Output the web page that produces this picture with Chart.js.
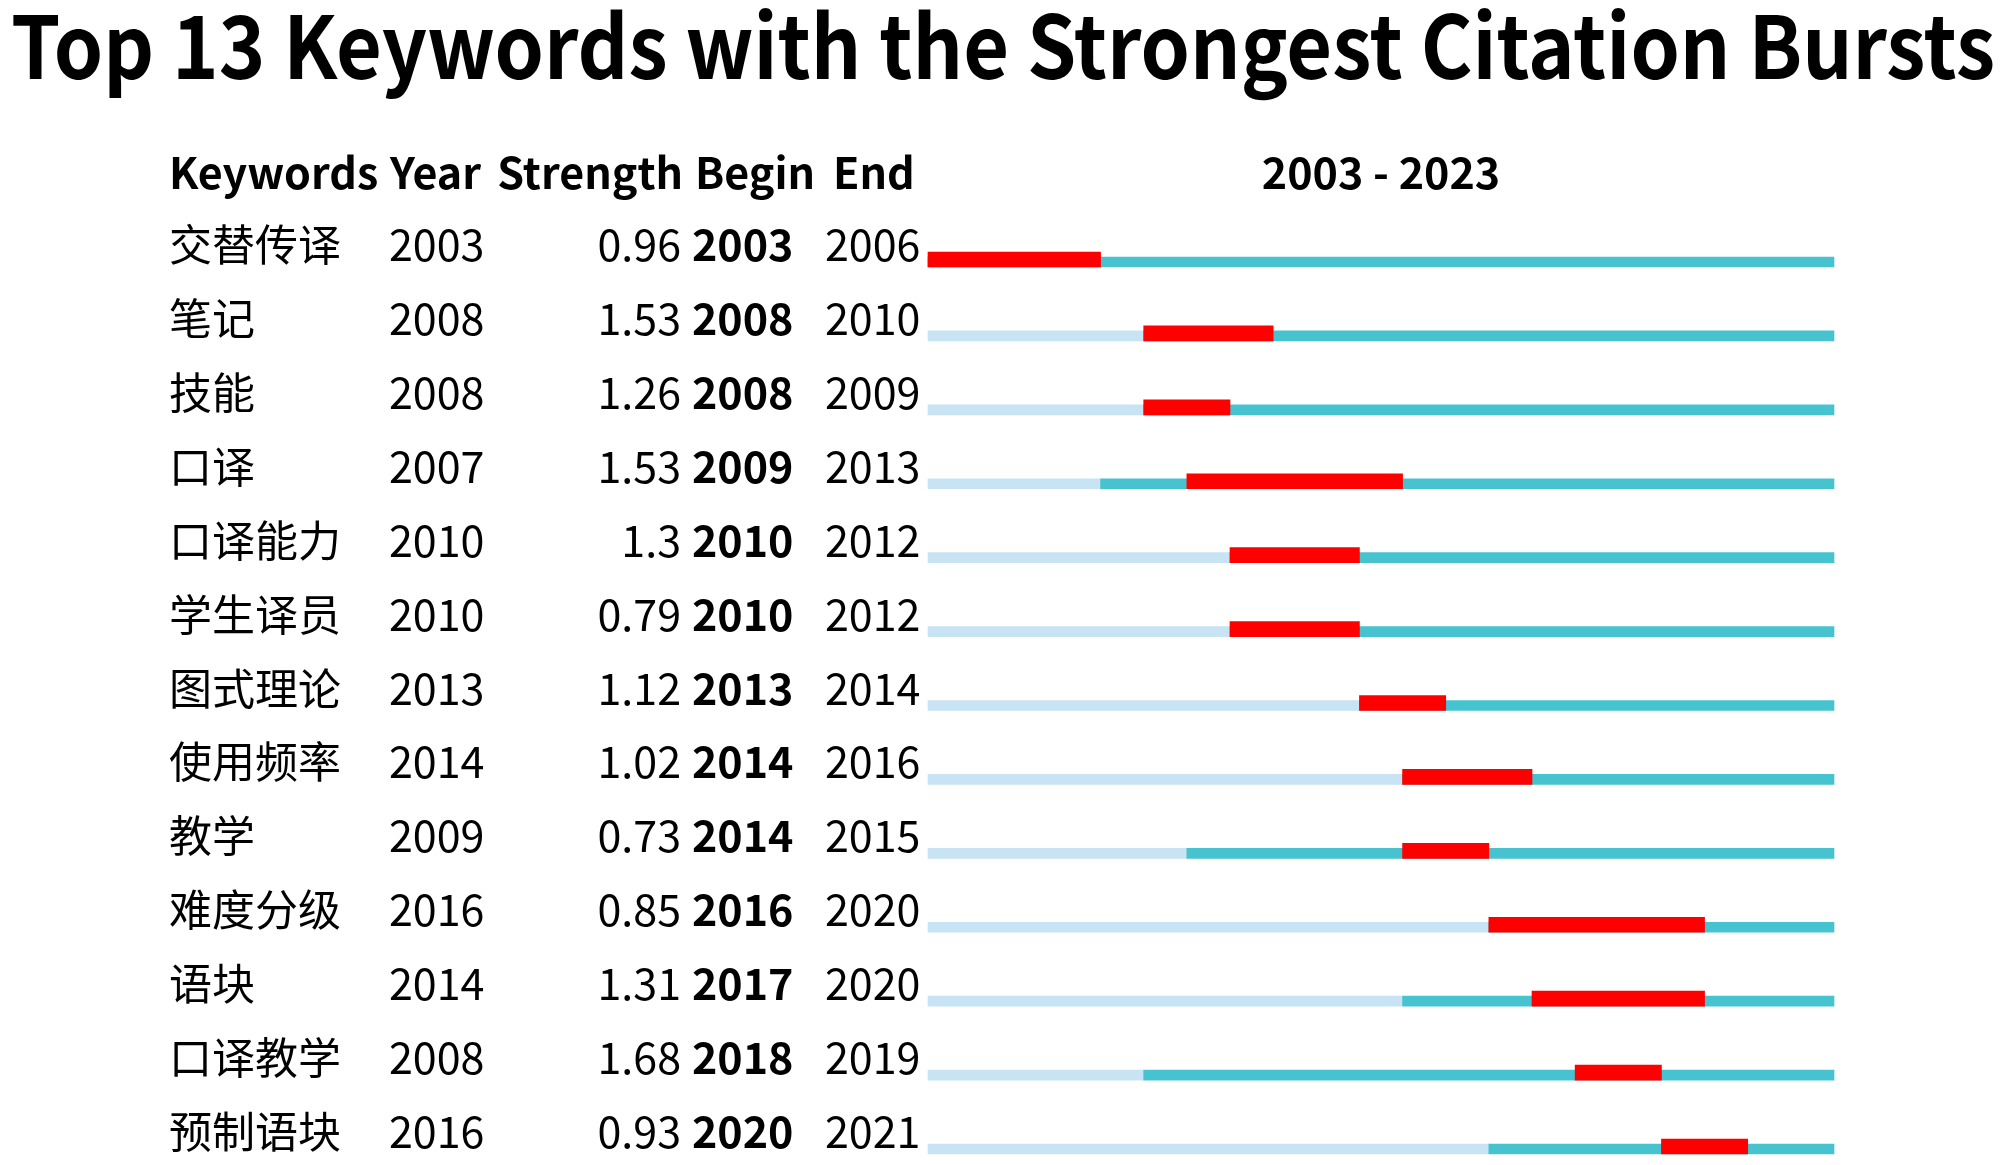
<!DOCTYPE html>
<html>
<head>
<meta charset="utf-8">
<script src="https://cdn.jsdelivr.net/npm/chart.js@4"></script>
<style>
html,body{margin:0;padding:0;background:#fff;}
#wrap{width:2000px;height:1165px;}
</style>
</head>
<body>
<div id="wrap"><canvas id="c" width="2000" height="1165"></canvas></div>
<script>
// ---- data ----
const titleText = 'Top 13 Keywords with the Strongest Citation Bursts';
const headers = ['Keywords', 'Year', 'Strength', 'Begin', 'End'];
const rangeLabel = '2003 - 2023';
const firstYear = 2003;
const lastYear = 2023;
const keywords = ['交替传译','笔记','技能','口译','口译能力','学生译员','图式理论','使用频率','教学','难度分级','语块','口译教学','预制语块'];
const years = [2003,2008,2008,2007,2010,2010,2013,2014,2009,2016,2014,2008,2016];
const strengths = [0.96,1.53,1.26,1.53,1.3,0.79,1.12,1.02,0.73,0.85,1.31,1.68,0.93];
const begins = [2003,2008,2008,2009,2010,2010,2013,2014,2014,2016,2017,2018,2020];
const ends = [2006,2010,2009,2013,2012,2012,2014,2016,2015,2020,2020,2019,2021];

const FONT = '"Noto Sans CJK SC", "Noto Sans", sans-serif';

const tablePlugin = {
  id: 'burstTable',
  beforeDatasetDraw(chart, args) {
    if (args.index === 0) { chart.ctx.save(); chart.ctx.translate(0, -2.5); }
  },
  afterDatasetDraw(chart, args) {
    if (args.index === 0) { chart.ctx.restore(); }
  },
  afterDraw(chart) {
    const ctx = chart.ctx;
    const ys = chart.scales.y, xs = chart.scales.x;
    ctx.save();
    ctx.fillStyle = '#000';
    ctx.textBaseline = 'alphabetic';
    // title
    ctx.font = 'bold 87px ' + FONT;
    ctx.textAlign = 'center';
    ctx.fillText(titleText, 1003, 79, 1984);
    // header
    const hy = 189;
    ctx.font = 'bold 43px ' + FONT;
    ctx.textAlign = 'left';
    ctx.fillText(headers[0], 169, hy);
    ctx.fillText(headers[1], 390, hy);
    ctx.textAlign = 'right';
    ctx.fillText(headers[2], 683, hy);
    ctx.textAlign = 'left';
    ctx.fillText(headers[3], 695, hy);
    ctx.fillText(headers[4], 833, hy);
    ctx.textAlign = 'center';
    const cx = (xs.getPixelForValue(firstYear) + xs.getPixelForValue(lastYear + 1)) / 2;
    ctx.fillText(rangeLabel, cx, hy);
    // rows
    keywords.forEach((k, i) => {
      const y = ys.getPixelForValue(i) - 1;
      ctx.font = '43px ' + FONT;
      ctx.textAlign = 'left';
      ctx.fillText(k, 169, y);
      ctx.fillText(String(years[i]), 389, y);
      ctx.textAlign = 'right';
      ctx.fillText(String(strengths[i]), 681, y);
      ctx.textAlign = 'left';
      ctx.font = 'bold 43px ' + FONT;
      ctx.fillText(String(begins[i]), 692, y);
      ctx.font = '43px ' + FONT;
      ctx.fillText(String(ends[i]), 825, y);
    });
    ctx.restore();
  }
};

new Chart(document.getElementById('c'), {
  type: 'bar',
  data: {
    labels: keywords,
    datasets: [
      {
        label: 'Burst',
        data: begins.map((b, i) => [b, ends[i] + 1]),
        backgroundColor: '#ff0000',
        barThickness: 15,
        grouped: false,
        clip: false
      },
      {
        label: 'Active',
        data: years.map(y => [y, lastYear + 1]),
        backgroundColor: '#47c3cf',
        barThickness: 10,
        grouped: false,
        clip: false
      },
      {
        label: 'Before',
        data: years.map(y => [firstYear, y]),
        backgroundColor: '#c8e3f3',
        barThickness: 10,
        grouped: false,
        clip: false
      }
    ]
  },
  options: {
    indexAxis: 'y',
    responsive: false,
    animation: false,
    devicePixelRatio: 1,
    layout: { padding: { top: 262, bottom: 16, left: 928, right: 166 } },
    scales: {
      x: { type: 'linear', min: firstYear, max: lastYear + 1, display: false, grid: { display: false } },
      y: { type: 'category', offset: false, display: false, grid: { display: false } }
    },
    plugins: {
      legend: { display: false },
      tooltip: { enabled: false },
      title: { display: false }
    }
  },
  plugins: [tablePlugin]
});
</script>
</body>
</html>
